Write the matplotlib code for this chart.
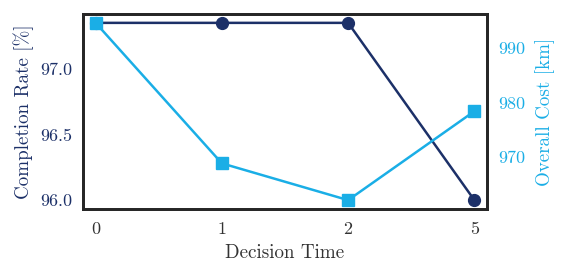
import matplotlib
matplotlib.use("Agg")
import matplotlib.pyplot as plt

decision_times = ["0", "1", "2", "5"]
completion_rate = [97.35, 97.35, 97.35, 96.0]
overall_cost = [994.5, 968.9, 962.2, 978.4]

navy = "#1c3068"
light = "#1aaee6"

plt.rcParams["font.family"] = ["cmr10", "DejaVu Serif"]
plt.rcParams["axes.unicode_minus"] = False
plt.rcParams["mathtext.fontset"] = "cm"

fig = plt.figure(figsize=(5.68, 2.76), dpi=100)
ax = fig.add_axes([83/568, 1 - 209/276, (487-83)/568, (209-14)/276])
x = list(range(len(decision_times)))
ax.plot(x, completion_rate, color=navy, marker="o", markersize=8.5, linewidth=1.8)
ax.set_ylabel("Completion Rate [%]", color=navy, fontsize=13.7, labelpad=4)
ax.set_xlabel("Decision Time", color="#333333", fontsize=13.7, labelpad=5)
ax.set_xticks(x)
ax.set_xticklabels(decision_times)
ax.set_xlim(-0.1, 3.1)
ax.set_yticks([96.0, 96.5, 97.0])
ax.set_yticklabels(["96.0", "96.5", "97.0"])
ax.tick_params(axis="y", colors=navy, labelsize=13, length=0, pad=8)
ax.tick_params(axis="x", colors="#333333", labelsize=13, length=0, pad=9)
for sp in ax.spines.values():
    sp.set_linewidth(2)
    sp.set_color("#262626")

ax2 = ax.twinx()
ax2.plot(x, overall_cost, color=light, marker="s", markersize=8.5, linewidth=1.8)
ax2.set_ylabel("Overall Cost [km]", color=light, fontsize=13.7, labelpad=7)
ax2.set_yticks([970, 980, 990])
ax2.set_yticklabels(["970", "980", "990"])
ax2.tick_params(axis="y", colors=light, labelsize=13, length=0, pad=8)
for sp in ax2.spines.values():
    sp.set_linewidth(2)
    sp.set_color("#262626")

fig.savefig("out.png", dpi=100)
